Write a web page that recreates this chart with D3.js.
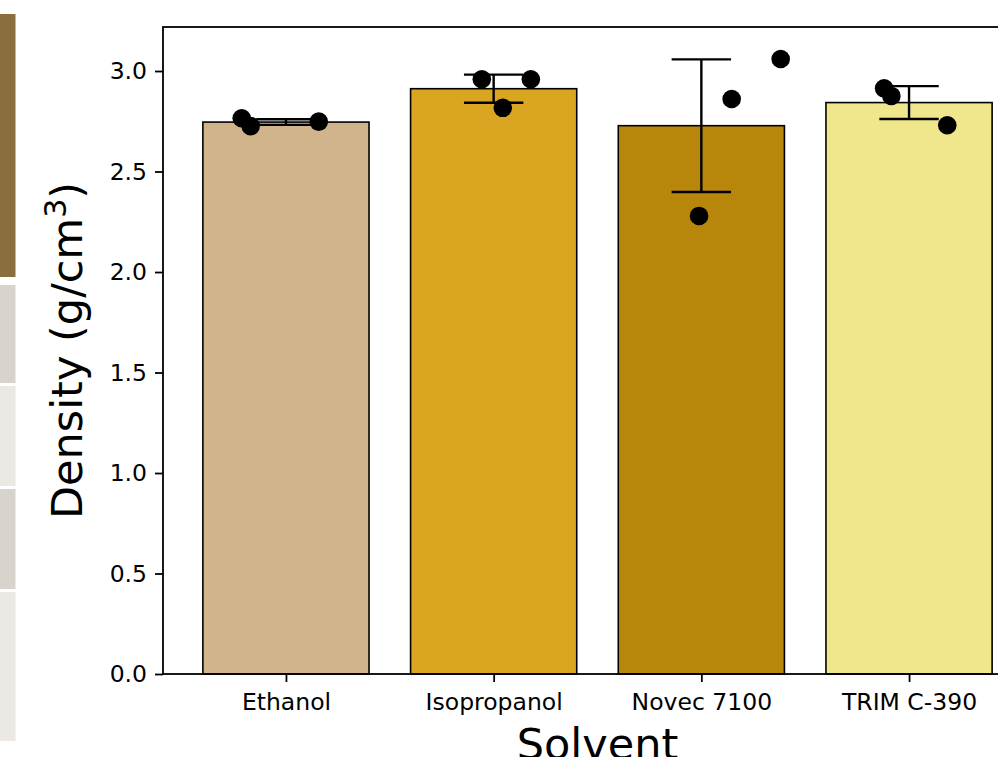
<!DOCTYPE html>
<html><head><meta charset="utf-8">
<script src="https://cdn.jsdelivr.net/npm/d3@7"></script>
<style>html,body{margin:0;padding:0;background:#fff;overflow:hidden}</style>
</head><body><svg id="c" width="998" height="757"></svg>
<script>
const categories = ["Ethanol", "Isopropanol", "Novec 7100", "TRIM C-390"];
const means = [2.746, 2.912, 2.728, 2.843];
const errors = [0.014, 0.07, 0.33, 0.082];
const colors = ["#D2B48C", "#DAA520", "#B8860B", "#F0E68C"];
const pointValues = [
  [2.765, 2.726, 2.748],
  [2.959, 2.959, 2.817],
  [2.279, 2.861, 3.060],
  [2.914, 2.876, 2.730]
];
const pointJitter = [
  [-0.213, -0.170, 0.158],
  [-0.057, 0.179, 0.044],
  [-0.011, 0.146, 0.382],
  [-0.120, -0.085, 0.184]
];
const yTicks = [0, 0.5, 1.0, 1.5, 2.0, 2.5, 3.0];
const sideStrips = [
  {y0: 14, y1: 277, color: "#8B6E3D"},
  {y0: 285, y1: 383, color: "#D9D3CD"},
  {y0: 386, y1: 486, color: "#ECE8E4"},
  {y0: 489, y1: 589, color: "#D9D3CD"},
  {y0: 592, y1: 741, color: "#ECE8E4"}
];

const svg = d3.select("#c");
const font = "DejaVu Sans, sans-serif";
const L = 163, T = 27, B = 674, R = 1032;

// left decorative strip
svg.selectAll("rect.strip").data(sideStrips).join("rect")
  .attr("x", 0).attr("width", 15.5)
  .attr("y", d => d.y0).attr("height", d => d.y1 - d.y0)
  .attr("fill", d => d.color);

const x = d3.scaleLinear().domain([-0.592, 3.592]).range([L, R]);
const y = d3.scaleLinear().domain([0, 3.219]).range([B, T]);
const bw = 0.8;

const g = svg.append("g");

// bars
g.selectAll("rect.bar").data(means).join("rect")
  .attr("x", (d, i) => x(i - bw / 2))
  .attr("width", x(bw) - x(0))
  .attr("y", d => y(d))
  .attr("height", d => y(0) - y(d))
  .attr("fill", (d, i) => colors[i])
  .attr("stroke", "#000").attr("stroke-width", 1.6);

// error bars
const capHalf = 0.143;
means.forEach((m, i) => {
  const e = errors[i];
  g.append("line").attr("x1", x(i)).attr("x2", x(i))
    .attr("y1", y(m - e)).attr("y2", y(m + e))
    .attr("stroke", "#000").attr("stroke-width", 2.4);
  [m - e, m + e].forEach(v => {
    g.append("line").attr("x1", x(i - capHalf)).attr("x2", x(i + capHalf))
      .attr("y1", y(v)).attr("y2", y(v))
      .attr("stroke", "#000").attr("stroke-width", 2.4);
  });
});

// points
pointValues.forEach((vals, i) => {
  g.selectAll(null).data(vals).join("circle")
    .attr("cx", (d, j) => x(i + pointJitter[i][j]))
    .attr("cy", d => y(d))
    .attr("r", 9.3)
    .attr("fill", "#000");
});

// spines
svg.append("rect").attr("x", L).attr("y", T).attr("width", R - L).attr("height", B - T)
  .attr("fill", "none").attr("stroke", "#000").attr("stroke-width", 1.8);

// y axis
const yAxis = d3.axisLeft(y).tickValues(yTicks).tickFormat(d3.format(".1f")).tickSize(8).tickPadding(8);
const ya = svg.append("g").attr("transform", `translate(${L},0)`).call(yAxis);
ya.select(".domain").remove();
ya.selectAll("line").attr("stroke", "#000").attr("stroke-width", 1.8);
ya.selectAll("text").attr("font-family", font).attr("font-size", 23.5).attr("fill", "#000");

// x axis
const xAxis = d3.axisBottom(x).tickValues(d3.range(categories.length)).tickFormat(i => categories[i]).tickSize(8).tickPadding(11);
const xa = svg.append("g").attr("transform", `translate(0,${B})`).call(xAxis);
xa.select(".domain").remove();
xa.selectAll("line").attr("stroke", "#000").attr("stroke-width", 1.8);
xa.selectAll("text").attr("font-family", font).attr("font-size", 23.5).attr("fill", "#000");

// axis labels
svg.append("text").attr("x", (L + R) / 2).attr("y", 759)
  .attr("text-anchor", "middle").attr("font-family", font).attr("font-size", 43)
  .text("Solvent");

const yl = svg.append("text")
  .attr("transform", `translate(82,${(T + B) / 2}) rotate(-90)`)
  .attr("text-anchor", "middle").attr("font-family", font).attr("font-size", 43);
yl.append("tspan").text("Density (g/cm");
yl.append("tspan").attr("dy", -16).attr("font-size", 30).text("3");
yl.append("tspan").attr("dy", 16).text(")");
</script>
</body></html>
